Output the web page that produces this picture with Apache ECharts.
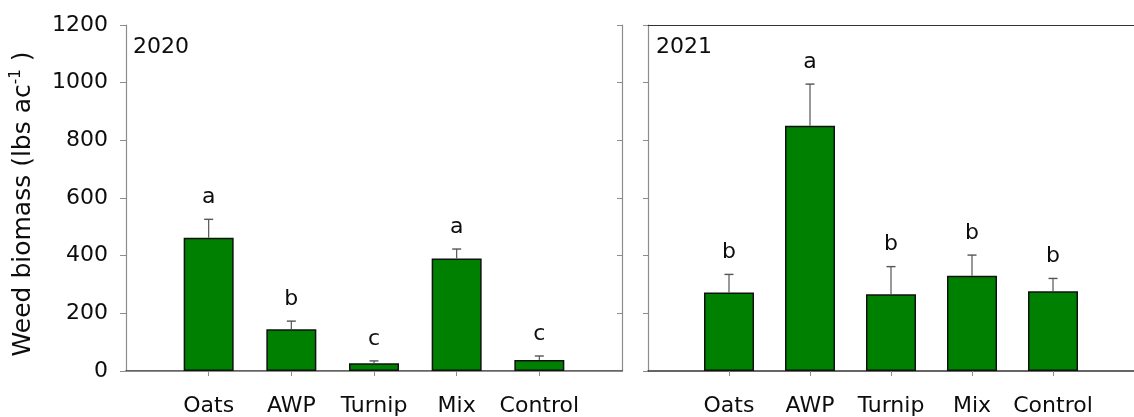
<!DOCTYPE html>
<html>
<head>
<meta charset="utf-8">
<script src="https://cdn.jsdelivr.net/npm/echarts@6/dist/echarts.min.js"></script>
<style>
  html, body { margin: 0; padding: 0; background: #fff; }
  #chart { width: 1134px; height: 417px; }
</style>
</head>
<body>
<div id="chart"></div>
<script>
// Treatments and weed biomass (lbs/ac), mean and upper error bar limit
const categories = ['Oats', 'AWP', 'Turnip', 'Mix', 'Control'];
const biomass2020 = [462, 145, 27, 390, 38];
const upper2020 = [526, 173, 35, 423, 52];
const letters2020 = ['a', 'b', 'c', 'a', 'c'];
const biomass2021 = [272, 851, 266, 330, 277];
const upper2021 = [335, 995, 362, 402, 321];
const letters2021 = ['b', 'a', 'b', 'b', 'b'];
const yTicks = [0, 200, 400, 600, 800, 1000, 1200];
const panelTitles = ['2020', '2021'];

const FONT = 'DejaVu Sans';
const GREEN = '#008000';
const GRAY = '#8c8c8c';
const DARK = '#333333';
const INK = '#0d0d0d';

// padded category list so the bars sit one step in from each panel edge
const xCats = [''].concat(categories, ['']);
const pad = arr => [null].concat(arr, [null]);

function xAxes(gridIndex, topColor) {
  return [
    {
      type: 'category', gridIndex, data: xCats, boundaryGap: false, position: 'bottom',
      axisLine: { lineStyle: { color: DARK, width: 1.5 } },
      axisTick: { length: 5, lineStyle: { color: GRAY }, interval: (i, v) => v !== '' },
      axisLabel: { fontFamily: FONT, fontSize: 22, color: INK, margin: 24, interval: (i, v) => v !== '' },
      splitLine: { show: false }
    },
    {
      type: 'category', gridIndex, data: xCats, boundaryGap: false, position: 'top',
      axisLine: { lineStyle: { color: topColor, width: 1.2 } },
      axisTick: { show: false }, axisLabel: { show: false }, splitLine: { show: false }
    }
  ];
}

function yAxisBase(gridIndex) {
  return {
    type: 'value', gridIndex, min: 0, max: 1200, interval: 200,
    splitLine: { show: false }
  };
}

// upper error bar with cap, and the significance letter above it
function errorSeries(xi, means, uppers, letters) {
  return {
    type: 'custom', xAxisIndex: xi, yAxisIndex: xi, z: 5,
    data: means.map((m, i) => [i + 1, m, uppers[i]]),
    renderItem: (params, api) => {
      const base = api.coord([api.value(0), api.value(1)]);
      const top = api.coord([api.value(0), api.value(2)]);
      const x = base[0];
      return {
        type: 'group',
        children: [
          { type: 'line', shape: { x1: x, y1: base[1], x2: x, y2: top[1] }, style: { stroke: '#555', lineWidth: 1.2 } },
          { type: 'line', shape: { x1: x - 4.5, y1: top[1], x2: x + 4.5, y2: top[1] }, style: { stroke: '#555', lineWidth: 1.4 } },
          {
            type: 'text',
            style: {
              x: x, y: top[1] - 22, text: letters[params.dataIndex],
              font: '22px "' + FONT + '"', fill: INK, align: 'center', verticalAlign: 'middle'
            }
          }
        ]
      };
    }
  };
}

function barSeries(xi, values) {
  return {
    type: 'bar', xAxisIndex: xi, yAxisIndex: xi, barWidth: 50, z: 3,
    data: pad(values),
    itemStyle: { color: GREEN, borderColor: '#111', borderWidth: 1.5 },
    silent: true
  };
}

const titleStyle = { fontFamily: FONT, fontSize: 22, fontWeight: 'normal', color: INK };

const chart = echarts.init(document.getElementById('chart'), null, { renderer: 'canvas' });
chart.setOption({
  backgroundColor: '#fff',
  animation: false,
  title: [
    { text: panelTitles[0], left: 133, top: 36, padding: 0, textStyle: titleStyle },
    { text: panelTitles[1], left: 656, top: 36, padding: 0, textStyle: titleStyle }
  ],
  grid: [
    { left: 126, top: 25, width: 496, height: 346 },
    { left: 648, top: 25, width: 494, height: 346 }
  ],
  // axes 0/1: 2020 panel bottom/top; axes 2/3: 2021 panel bottom/top
  xAxis: xAxes(0, GRAY).concat(xAxes(1, DARK)),
  // y axes 0/1: 2020 panel left/right; axis 2: 2021 panel left
  yAxis: [
    Object.assign(yAxisBase(0), {
      position: 'left',
      axisLine: { show: true, lineStyle: { color: GRAY, width: 1.2 } },
      axisTick: { show: true, length: 6, lineStyle: { color: GRAY } },
      axisLabel: {
        fontFamily: FONT, fontSize: 22, color: INK, margin: 18,
        formatter: v => yTicks.indexOf(v) >= 0 ? String(v) : ''
      },
      name: 'Weed biomass (lbs ac{sup|-1} )',
      nameLocation: 'middle', nameGap: 88, nameRotate: 90,
      nameTextStyle: {
        fontFamily: FONT, fontSize: 25, color: INK, padding: [0, 12, 0, 0],
        rich: { sup: { fontFamily: FONT, fontSize: 15, color: INK, padding: [0, 0, 14, 0] } }
      }
    }),
    Object.assign(yAxisBase(0), {
      position: 'right',
      axisLine: { show: true, lineStyle: { color: GRAY, width: 1.2 } },
      axisTick: { show: true, inside: true, length: 5, lineStyle: { color: GRAY } },
      axisLabel: { show: false }
    }),
    Object.assign(yAxisBase(1), {
      position: 'left',
      axisLine: { show: true, lineStyle: { color: GRAY, width: 1.2 } },
      axisTick: { show: true, length: 5, lineStyle: { color: GRAY } },
      axisLabel: { show: false }
    })
  ],
  series: [
    barSeries(0, biomass2020),
    errorSeries(0, biomass2020, upper2020, letters2020),
    Object.assign(barSeries(0, biomass2021), { xAxisIndex: 2, yAxisIndex: 2 }),
    Object.assign(errorSeries(0, biomass2021, upper2021, letters2021), { xAxisIndex: 2, yAxisIndex: 2 })
  ]
});
</script>
</body>
</html>
